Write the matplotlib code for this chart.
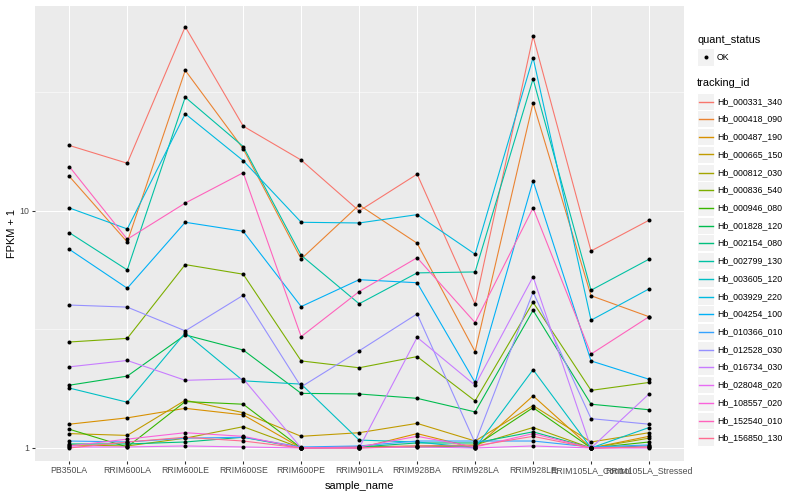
import matplotlib.pyplot as plt
from matplotlib.lines import Line2D
from matplotlib.patches import Rectangle
from matplotlib.ticker import NullFormatter

plt.rcParams['font.family'] = ['Liberation Sans', 'DejaVu Sans']

samples = ['PB350LA', 'RRIM600LA', 'RRIM600LE', 'RRIM600SE', 'RRIM600PE',
           'RRIM901LA', 'RRIM928BA', 'RRIM928LA', 'RRIM928LE',
           'RRIM105LA_Control', 'RRIM105LA_Stressed']

# FPKM + 1, one list per gene, in sample order
hb_000331_340 = [18.9, 15.9, 59.9, 22.8, 16.4, 10.0, 14.3, 4.04, 54.6, 6.78, 9.14]
hb_000418_090 = [14.0, 7.40, 39.2, 18.3, 6.27, 10.6, 7.31, 2.55, 28.6, 4.39, 3.58]
hb_000487_190 = [1.26, 1.34, 1.47, 1.38, 1.00, 1.00, 1.15, 1.00, 1.66, 1.00, 1.12]
hb_000665_150 = [1.15, 1.13, 1.59, 1.41, 1.12, 1.16, 1.27, 1.07, 1.51, 1.06, 1.16]
hb_000812_030 = [1.03, 1.02, 1.10, 1.23, 1.00, 1.01, 1.02, 1.03, 1.22, 1.00, 1.10]
hb_000836_540 = [2.80, 2.90, 5.94, 5.41, 2.33, 2.18, 2.43, 1.58, 4.12, 1.75, 1.89]
hb_000946_080 = [1.20, 1.01, 1.57, 1.53, 1.00, 1.01, 1.01, 1.02, 1.48, 1.00, 1.06]
hb_001828_120 = [1.84, 2.01, 3.00, 2.59, 1.70, 1.69, 1.62, 1.42, 3.81, 1.53, 1.45]
hb_002154_080 = [1.04, 1.04, 1.06, 1.11, 1.00, 1.01, 1.05, 1.05, 1.17, 1.00, 1.02]
hb_002799_130 = [8.10, 5.64, 30.2, 18.7, 6.50, 4.06, 5.48, 5.53, 36.1, 4.63, 6.26]
hb_003605_120 = [1.79, 1.56, 3.06, 1.92, 1.86, 1.08, 1.06, 1.00, 2.14, 1.00, 1.22]
hb_003929_220 = [10.3, 8.40, 25.7, 16.3, 8.96, 8.90, 9.65, 6.57, 44.4, 3.46, 4.69]
hb_004254_100 = [6.89, 4.72, 8.96, 8.21, 3.95, 5.13, 4.98, 1.89, 13.4, 2.33, 1.95]
hb_010366_010 = [1.07, 1.06, 1.10, 1.11, 1.01, 1.02, 1.07, 1.07, 1.07, 1.01, 1.03]
hb_012528_030 = [4.01, 3.93, 3.12, 4.41, 1.81, 2.57, 3.68, 1.05, 4.55, 1.33, 1.26]
hb_016734_030 = [2.20, 2.34, 1.93, 1.96, 1.00, 1.00, 2.93, 1.84, 5.28, 1.00, 1.69]
hb_028048_020 = [1.01, 1.01, 1.02, 1.01, 1.00, 1.00, 1.01, 1.00, 1.02, 1.00, 1.00]
hb_108557_020 = [1.02, 1.09, 1.16, 1.12, 1.00, 1.01, 1.12, 1.01, 1.15, 1.00, 1.01]
hb_152540_010 = [15.4, 7.60, 10.8, 14.5, 2.95, 4.57, 6.35, 3.38, 10.3, 2.49, 3.58]
hb_156850_130 = [1.00, 1.06, 1.11, 1.07, 1.00, 1.00, 1.02, 1.02, 1.12, 1.00, 1.01]

tracking_ids = ['Hb_000331_340', 'Hb_000418_090', 'Hb_000487_190', 'Hb_000665_150',
                'Hb_000812_030', 'Hb_000836_540', 'Hb_000946_080', 'Hb_001828_120',
                'Hb_002154_080', 'Hb_002799_130', 'Hb_003605_120', 'Hb_003929_220',
                'Hb_004254_100', 'Hb_010366_010', 'Hb_012528_030', 'Hb_016734_030',
                'Hb_028048_020', 'Hb_108557_020', 'Hb_152540_010', 'Hb_156850_130']
series = [hb_000331_340, hb_000418_090, hb_000487_190, hb_000665_150,
          hb_000812_030, hb_000836_540, hb_000946_080, hb_001828_120,
          hb_002154_080, hb_002799_130, hb_003605_120, hb_003929_220,
          hb_004254_100, hb_010366_010, hb_012528_030, hb_016734_030,
          hb_028048_020, hb_108557_020, hb_152540_010, hb_156850_130]

# ggplot hue palette, 20 levels
colors = ['#F8766D', '#EA8331', '#D89000', '#C09B00', '#A3A500', '#7CAE00',
          '#39B600', '#00BB4E', '#00BF7D', '#00C1A3', '#00BFC4', '#00BAE0',
          '#00B0F6', '#35A2FF', '#9590FF', '#C77CFF', '#E76BF3', '#FA62DB',
          '#FF62BC', '#FF6C91']

W, H = 800, 500
fig = plt.figure(figsize=(W / 72, H / 72), dpi=72)
fig.patch.set_facecolor('white')

px_left, px_right, px_top, px_bottom = 34.5, 683.8, 5.6, 461.0
ax = fig.add_axes([px_left / W, 1 - px_bottom / H,
                   (px_right - px_left) / W, (px_bottom - px_top) / H])

x = list(range(len(samples)))
for vals, col in zip(series, colors):
    ax.plot(x, vals, color=col, lw=1.1, zorder=2)
for vals in series:
    ax.plot(x, vals, 'o', color='black', ms=4, mew=0, zorder=3)

ax.set_yscale('log')
# 1 sits at y=448 px and 10 at y=211 px in the reference
ax.set_ylim(10 ** -0.0549, 10 ** 1.8665)
ax.set_xlim(-0.6, len(samples) - 0.4)
ax.set_facecolor('#EBEBEB')
for s in ax.spines.values():
    s.set_visible(False)

ax.set_xticks(x)
ax.set_xticklabels(samples)
ax.set_yticks([1, 10])
ax.set_yticklabels(['1', '10'])
ax.set_yticks([10 ** 0.5, 10 ** 1.5], minor=True)
ax.yaxis.set_minor_formatter(NullFormatter())
ax.tick_params(which='major', length=2.75, width=1.07, color='#333333',
               labelsize=8.8, labelcolor='#4D4D4D', pad=2.2)
ax.tick_params(which='minor', length=0)
ax.set_axisbelow(True)
ax.grid(which='major', color='white', lw=1.07)
ax.grid(which='minor', axis='y', color='white', lw=0.53)

ax.set_xlabel('sample_name', fontsize=11, labelpad=6)
ax.set_ylabel('FPKM + 1', fontsize=11, labelpad=2.75)


def fx(px):
    return px / W


def fy(py):
    return 1 - py / H


# legend: quant_status
key = 17.28
kx = 697.0
fig.text(fx(kx), fy(40), 'quant_status', fontsize=11, va='center', ha='left')
yc = 57.0
fig.add_artist(Rectangle((fx(kx), fy(yc + key / 2)), key / W, key / H,
                         transform=fig.transFigure, facecolor='#F2F2F2',
                         edgecolor='white', lw=1, zorder=1))
fig.add_artist(Line2D([fx(kx + key / 2)], [fy(yc)], transform=fig.transFigure,
                      marker='o', color='black', ms=4, mew=0, ls='none',
                      zorder=3))
fig.text(fx(717), fy(yc), 'OK', fontsize=8.8, va='center', ha='left')

# legend: tracking_id
fig.text(fx(kx), fy(83.3), 'tracking_id', fontsize=11, va='center', ha='left')
step = 17.72
for i, (name, col) in enumerate(zip(tracking_ids, colors)):
    yc = round(100.7 + i * step) + 0.5
    fig.add_artist(Rectangle((fx(kx), fy(yc + key / 2)), key / W, key / H,
                             transform=fig.transFigure, facecolor='#F2F2F2',
                             edgecolor='white', lw=1, zorder=1))
    fig.add_artist(Line2D([fx(kx + 1.7), fx(kx + key - 1.7)], [fy(yc), fy(yc)],
                          transform=fig.transFigure, color=col, lw=1.4,
                          zorder=3))
    fig.text(fx(717), fy(yc), name, fontsize=8.8, va='center', ha='left')

fig.savefig('out.png', dpi=72)
